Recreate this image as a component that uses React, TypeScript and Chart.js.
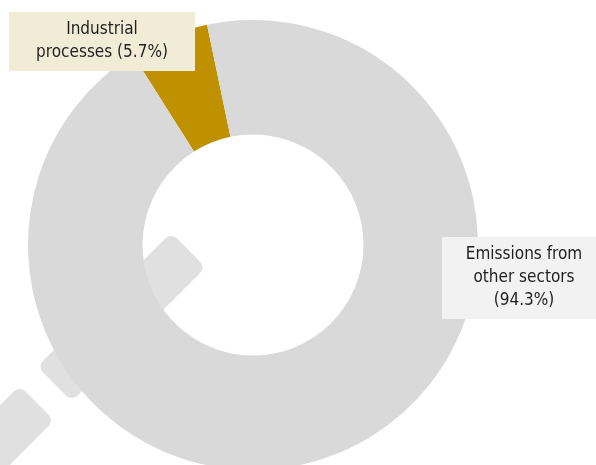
import React, { useEffect, useRef } from "react";
import { Chart, registerables } from "chart.js";

Chart.register(...registerables);

const categories = ["Industrial processes", "Emissions from other sectors"];
const shares = [5.7, 94.3];
const sliceColors = ["#bf9000", "#d9d9d9"];
const labelLines = [
  ["Industrial", "processes (5.7%)"],
  ["Emissions from", "other sectors", "(94.3%)"],
];
const labelFills = ["#f2ecd7", "#f2f2f2"];
const labelBoxes = [
  { x: 9, y: 12, w: 186, h: 59, cx: 102 },
  { x: 442, y: 237, w: 154, h: 82, cx: 524 },
];
const handleBars = [
  { x1: 188.5, y1: 250, x2: 54.5, y2: 384 },
  { x1: 37, y1: 403, x2: -40, y2: 480 },
];

const backdrop = {
  id: "backdrop",
  beforeDatasetsDraw(chart: any) {
    const ctx = chart.ctx;
    ctx.save();
    ctx.fillStyle = "#e0e0e0";
    const half = 24.5;
    for (const b of handleBars) {
      const len = Math.hypot(b.x2 - b.x1, b.y2 - b.y1);
      ctx.save();
      ctx.translate(b.x1, b.y1);
      ctx.rotate(Math.atan2(b.y2 - b.y1, b.x2 - b.x1));
      ctx.beginPath();
      ctx.roundRect(0, -half, len, half * 2, 8);
      ctx.fill();
      ctx.restore();
    }
    ctx.restore();
  },
};

const calloutLabels = {
  id: "calloutLabels",
  afterDatasetsDraw(chart: any) {
    const ctx = chart.ctx;
    ctx.save();
    labelBoxes.forEach((box, i) => {
      ctx.fillStyle = labelFills[i];
      ctx.fillRect(box.x, box.y, box.w, box.h);
      ctx.fillStyle = "#1f1f1f";
      ctx.font = '17px "DejaVu Sans Condensed", "DejaVu Sans"';
      ctx.textAlign = "center";
      ctx.textBaseline = "middle";
      const lines = labelLines[i];
      const lh = 23;
      const top = box.y + box.h / 2 - ((lines.length - 1) * lh) / 2;
      lines.forEach((t, j) => ctx.fillText(t, box.cx, top + j * lh));
    });
    ctx.restore();
  },
};

export default function App() {
  const ref = useRef<HTMLCanvasElement>(null);
  useEffect(() => {
    const chart = new Chart(ref.current!, {
      type: "doughnut",
      data: {
        labels: categories,
        datasets: [{ data: shares, backgroundColor: sliceColors, borderWidth: 0 }],
      },
      options: {
        animation: false,
        responsive: false,
        rotation: -32.3,
        cutout: "49.1%",
        layout: { padding: { left: 28, right: 118, top: 20, bottom: 20 } },
        plugins: { legend: { display: false }, tooltip: { enabled: false } },
      },
      plugins: [backdrop, calloutLabels],
    });
    return () => chart.destroy();
  }, []);
  return (
    <div style={{ position: "absolute", left: 0, top: 0, width: 596, height: 465, overflow: "hidden", background: "#fff" }}>
      <canvas ref={ref} width={596} height={490} style={{ display: "block", width: 596, height: 490 }} />
    </div>
  );
}
